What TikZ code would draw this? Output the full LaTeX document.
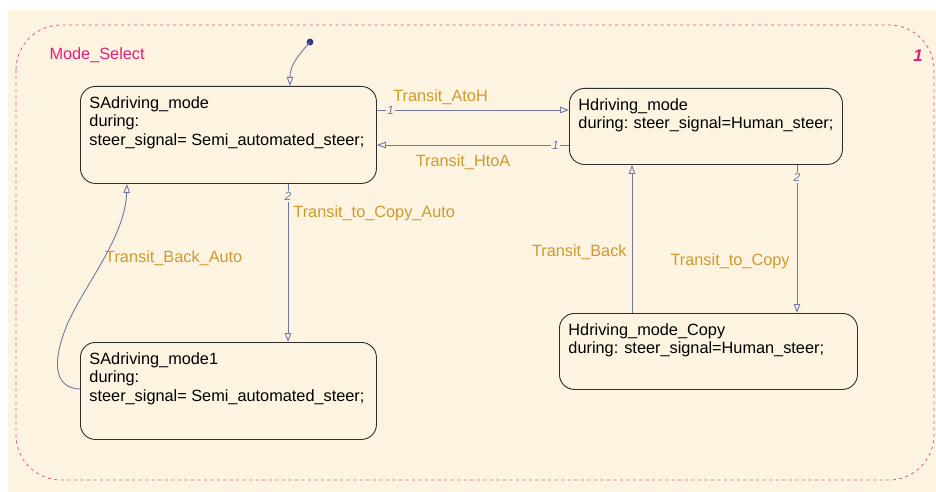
\documentclass[tikz,border=0pt]{standalone}
\usepackage{fontspec}
\setmainfont{Liberation Sans}
\usetikzlibrary{arrows.meta, positioning, calc}
\definecolor{chartcream}{HTML}{FDF3E1}
\definecolor{boxline}{HTML}{2E2E2E}
\definecolor{transblue}{HTML}{7276A4}
\definecolor{labelgold}{HTML}{CF9A2E}
\definecolor{chartpink}{HTML}{E0207A}
\definecolor{dashpink}{HTML}{D45A88}
\definecolor{initnavy}{HTML}{2F3585}

\tikzset{
  statebox/.style={draw=boxline, line width=0.9pt, rounded corners=15pt, anchor=north west,
    inner xsep=9pt, inner ysep=10pt, fill=chartcream, font=\fontsize{16.3}{18.5}\selectfont},
  trans/.style={draw=transblue, line width=0.9pt, -{Triangle[open, length=9pt, width=6.5pt]}},
  translabel/.style={text=labelgold, font=\fontsize{16.3}{18}\selectfont, inner sep=0pt},
  prio/.style={text=transblue, fill=chartcream, font=\fontsize{12}{12}\selectfont\itshape, inner sep=1.5pt},
}
% state body: fixed height, text from the top left
\newcommand{\statebody}[3]{\parbox[t][#1][t]{#2}{#3}}

\begin{document}
\begin{tikzpicture}[x=1pt, y=-1pt]
  % Chart background
  \fill[white] (0,0) rectangle (936,492);
  \fill[chartcream] (8,10) rectangle (936,492);
  \useasboundingbox (0,0) rectangle (936,492);

  % Parent state Mode_Select
  \draw[dashpink, line width=0.8pt, dash pattern=on 3pt off 3.5pt, rounded corners=45pt] (16,25) rectangle (934,480);
  \node[text=chartpink, font=\fontsize{16.3}{16}\selectfont, anchor=base west] (modeselect) at (46,60) {Mode\_Select};
  \node[text=chartpink, font=\fontsize{17}{17}\selectfont\bfseries\itshape] (chartorder) at (918,56) {1};

  % States
  \node[statebox] (samode) at (80,86)
    {\statebody{77pt}{278pt}{SAdriving\_mode\\during:\\steer\_signal= Semi\_automated\_steer;}};
  \node[statebox] (hmode) at (569,88)
    {\statebody{56pt}{255pt}{Hdriving\_mode\\during: steer\_signal=Human\_steer;}};
  \node[statebox] (samode1) at (80,342)
    {\statebody{77pt}{278pt}{SAdriving\_mode1\\during:\\steer\_signal= Semi\_automated\_steer;}};
  \node[statebox] (hcopy) at (559,313)
    {\statebody{56pt}{280pt}{Hdriving\_mode\_Copy\\during: steer\_signal=Human\_steer;}};

  % Default transition
  \coordinate (initdot) at (310,42);
  \fill[initnavy] (initdot) circle (3.4pt);
  \draw[trans] (initdot) .. controls (296,58) and (290,66) .. ([xshift=210pt]samode.north west);

  % Transitions between the top states
  \coordinate (atoh) at ([yshift=-24pt]samode.north east);
  \draw[trans] (atoh) -- (atoh -| hmode.west)
    node[prio, pos=0.07] {1}
    node[translabel, pos=0.083, anchor=base west, yshift=8pt] (atohlabel) {Transit\_AtoH};
  \coordinate (htoa) at ([yshift=-57pt]hmode.north west);
  \draw[trans] (htoa) -- (htoa -| samode.east)
    node[prio, pos=0.07] {1}
    node[translabel, pos=0.8, anchor=base west, yshift=-21pt] (htoalabel) {Transit\_HtoA};

  % Left branch
  \coordinate (tocopyauto) at ([xshift=208pt]samode.south west);
  \draw[trans] (tocopyauto) -- (tocopyauto |- samode1.north)
    node[prio, pos=0.08] {2}
    node[translabel, pos=0.214, anchor=base west, xshift=5pt] (tocopyautolabel) {Transit\_to\_Copy\_Auto};
  \coordinate (backauto) at ([yshift=-47pt]samode1.north west);
  \coordinate (backautoend) at ([xshift=47pt]samode.south west);
  \draw[trans] (backauto) .. controls (55,388) and (52,365) .. (65,330)
    .. controls (80,290) and (125,240) .. (backautoend);
  \node[translabel, anchor=base west] (backautolabel) at (105,262) {Transit\_Back\_Auto};

  % Right branch
  \coordinate (back) at ([xshift=73pt]hcopy.north west);
  \draw[trans] (back) -- (back |- hmode.south)
    node[translabel, pos=0.383, anchor=base east, xshift=-5pt] (backlabel) {Transit\_Back};
  \coordinate (tocopy) at ([xshift=228pt]hmode.south west);
  \draw[trans] (tocopy) -- (tocopy |- hcopy.north)
    node[prio, pos=0.087] {2}
    node[translabel, pos=0.678, anchor=base east, xshift=-7pt] (tocopylabel) {Transit\_to\_Copy};
\end{tikzpicture}
\end{document}
